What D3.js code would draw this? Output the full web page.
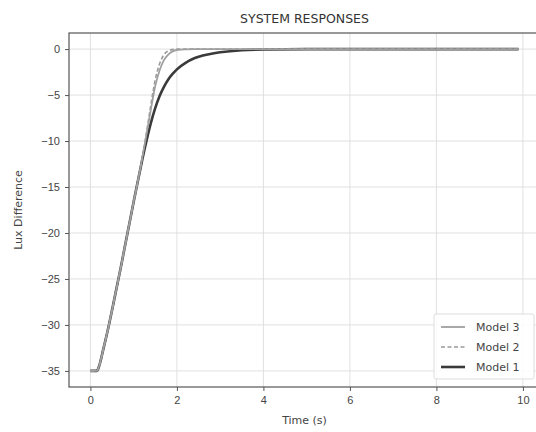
<!DOCTYPE html>
<html>
<head>
<meta charset="utf-8">
<script src="https://cdn.jsdelivr.net/npm/d3@7"></script>
<style>
  body { margin: 0; background: #fff; }
  svg { font-family: "DejaVu Sans", sans-serif; }
  .grid line { stroke: #dcdcdc; stroke-width: 0.9; }
  .axis path, .axis line { stroke: #555; }
  .axis text { fill: #444; font-size: 11px; }
</style>
</head>
<body>
<svg id="chart"></svg>
<script>
var w = 536;
var h = 432;
var margin = {left: 69, right: -4, top: 33, bottom: 45};

// time points (s)
var time = [0, 0.1, 0.15, 0.2, 0.3, 0.4, 0.5, 0.6, 0.7, 0.8, 0.9, 1.0, 1.1, 1.2, 1.3, 1.4, 1.5, 1.6, 1.7, 1.8, 1.9, 2.0,
    2.2, 2.4, 2.6, 2.8, 3.0, 3.5, 4.0, 5.0, 6.0, 7.0, 8.0, 9.0, 9.9];
var model1 = [-35, -35, -35, -34.5, -32.6, -30.6, -28.4, -26.1, -23.8, -21.4, -19.0, -16.6, -14.3, -12.0, -9.9, -8.0, -6.4, -5.1, -4.1, -3.3, -2.7, -2.2,
    -1.5, -1.0, -0.7, -0.5, -0.35, -0.12, -0.04, 0, 0, 0, 0, 0, 0];
var model2 = [-35, -35, -35, -34.5, -32.6, -30.6, -28.4, -26.1, -23.8, -21.4, -19.0, -16.6, -14.3, -11.8, -9.0, -6.0, -3.3, -1.6, -0.6, -0.2, -0.05, 0,
    0, 0, 0, 0, 0, 0, 0, 0, 0, 0, 0, 0, 0];
var model3 = [-35, -35, -35, -34.5, -32.6, -30.6, -28.4, -26.1, -23.8, -21.4, -19.0, -16.6, -14.3, -11.8, -9.2, -6.5, -4.0, -2.3, -1.2, -0.6, -0.25, -0.1,
    -0.02, 0, 0, 0, 0, 0, 0, 0, 0, 0, 0, 0, 0];
var xTicks = [0, 2, 4, 6, 8, 10];
var yTicks = [0, -5, -10, -15, -20, -25, -30, -35];

var series = [
    {name: "Model 3", values: model3, color: "#a0a0a0", width: 1.8, dash: null},
    {name: "Model 2", values: model2, color: "#9a9a9a", width: 1.6, dash: "4,2.5"},
    {name: "Model 1", values: model1, color: "#3a3a3a", width: 2.6, dash: null}
];

let svg = d3.select("#chart")
    .attr("width", w)
    .attr("height", h);

let xScale = d3.scaleLinear()
    .domain([-0.495, 10.395])
    .range([margin.left, w - margin.right]);
let yScale = d3.scaleLinear()
    .domain([-36.75, 1.75])
    .range([h - margin.bottom, margin.top]);

//grid
svg.append("g")
    .attr("class", "grid")
    .selectAll("line.v")
    .data(xTicks)
    .join("line")
    .attr("x1", d => xScale(d)).attr("x2", d => xScale(d))
    .attr("y1", yScale.range()[0]).attr("y2", yScale.range()[1]);
svg.append("g")
    .attr("class", "grid")
    .selectAll("line.h")
    .data(yTicks)
    .join("line")
    .attr("x1", xScale.range()[0]).attr("x2", xScale.range()[1])
    .attr("y1", d => yScale(d)).attr("y2", d => yScale(d));

//axes
let xAxis = d3.axisBottom(xScale).tickValues(xTicks).tickSize(4).tickPadding(5);
let yAxis = d3.axisLeft(yScale).tickValues(yTicks).tickSize(4).tickPadding(5)
    .tickFormat(d => d < 0 ? "\u2212" + Math.abs(d) : d);
svg.append("g")
    .attr("class", "axis")
    .attr("transform", `translate(0, ${h - margin.bottom})`)
    .call(xAxis)
    .call(g => g.select(".domain").remove());
svg.append("g")
    .attr("class", "axis")
    .attr("transform", `translate(${margin.left}, 0)`)
    .call(yAxis)
    .call(g => g.select(".domain").remove());

//frame
svg.append("rect")
    .attr("x", xScale.range()[0])
    .attr("y", yScale.range()[1])
    .attr("width", xScale.range()[1] - xScale.range()[0])
    .attr("height", yScale.range()[0] - yScale.range()[1])
    .attr("fill", "none")
    .attr("stroke", "#555")
    .attr("stroke-width", 1.2);

//lines, model 1 drawn last
let line = d3.line()
    .x((d, i) => xScale(time[i]))
    .y(d => yScale(d))
    .curve(d3.curveMonotoneX);
series.slice().reverse().forEach(s => {
    svg.append("path")
        .datum(s.values)
        .attr("fill", "none")
        .attr("stroke", s.color)
        .attr("stroke-width", s.width)
        .attr("stroke-dasharray", s.dash)
        .attr("d", line);
});

//title and labels
svg.append("text")
    .attr("x", (xScale.range()[0] + xScale.range()[1]) / 2)
    .attr("y", 23)
    .attr("text-anchor", "middle")
    .attr("font-size", 12.5)
    .attr("fill", "#333")
    .text("SYSTEM RESPONSES");
svg.append("text")
    .attr("x", (xScale.range()[0] + xScale.range()[1]) / 2)
    .attr("y", 424)
    .attr("text-anchor", "middle")
    .attr("font-size", 11)
    .attr("fill", "#444")
    .text("Time (s)");
svg.append("g")
    .attr("transform", `translate(22, ${(yScale.range()[0] + yScale.range()[1]) / 2}) rotate(-90)`)
    .append("text")
    .attr("text-anchor", "middle")
    .attr("font-size", 11)
    .attr("fill", "#444")
    .text("Lux Difference");

//legend
let lg = svg.append("g").attr("transform", "translate(434, 314)");
lg.append("rect")
    .attr("width", 100).attr("height", 65)
    .attr("rx", 2)
    .attr("fill", "#fff").attr("fill-opacity", 0.85)
    .attr("stroke", "#ddd");
series.forEach((s, i) => {
    let y = 13 + i * 20;
    lg.append("line")
        .attr("x1", 7).attr("x2", 31)
        .attr("y1", y).attr("y2", y)
        .attr("stroke", s.color)
        .attr("stroke-width", s.width)
        .attr("stroke-dasharray", s.dash);
    lg.append("text")
        .attr("x", 42).attr("y", y)
        .attr("dy", "0.35em")
        .attr("font-size", 11)
        .attr("fill", "#444")
        .text(s.name);
});
</script>
</body>
</html>
